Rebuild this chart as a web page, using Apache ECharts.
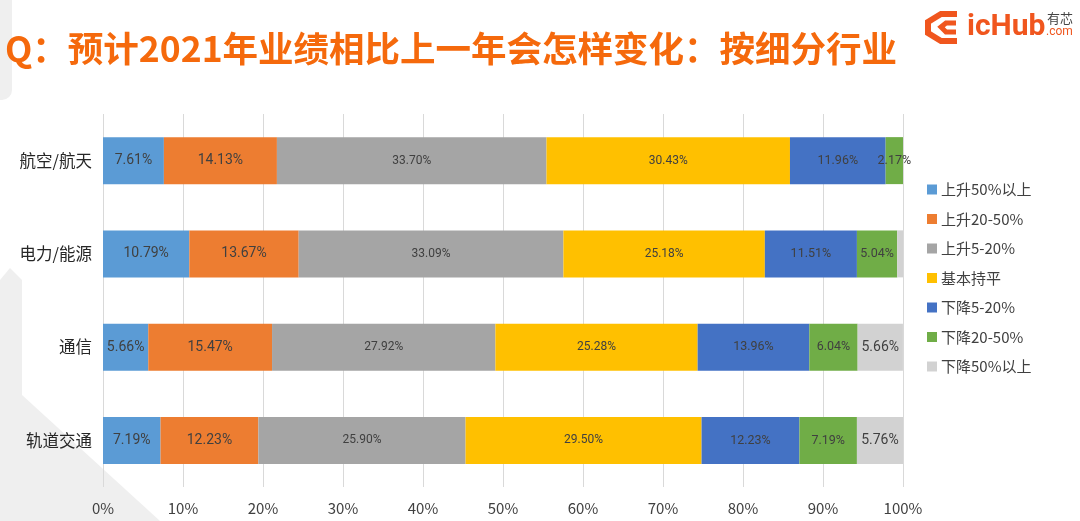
<!DOCTYPE html>
<html>
<head>
<meta charset="utf-8">
<script src="https://cdn.jsdelivr.net/npm/echarts@6/dist/echarts.min.js"></script>
<style>
  html, body { margin: 0; padding: 0; background: #ffffff; }
  #chart { width: 1080px; height: 521px; }
</style>
</head>
<body>
<div id="chart"></div>
<script>
// industries, top to bottom
var industries = ['航空/航天', '电力/能源', '通信', '轨道交通'];
var seriesNames = ['上升50%以上', '上升20-50%', '上升5-20%', '基本持平', '下降5-20%', '下降20-50%', '下降50%以上'];
var colors = ['#5B9BD5', '#ED7D31', '#A5A5A5', '#FFC000', '#4472C4', '#70AD47', '#D2D2D2'];

// percentage of each answer, per industry (same order as industries)
var up50 = [7.61, 10.79, 5.66, 7.19];
var up20 = [14.13, 13.67, 15.47, 12.23];
var up5 = [33.70, 33.09, 27.92, 25.90];
var flat = [30.43, 25.18, 25.28, 29.50];
var down5 = [11.96, 11.51, 13.96, 12.23];
var down20 = [2.17, 5.04, 6.04, 7.19];
var down50 = [0, 0.72, 5.66, 5.76];

var xTicks = [0, 10, 20, 30, 40, 50, 60, 70, 80, 90, 100];

var values = [up50, up20, up5, flat, down5, down20, down50];
var labelSizes = [14, 14, 12, 12, 12.5, 12.5, 14];

var chart = echarts.init(document.getElementById('chart'));

var series = [];
for (var i = 0; i < seriesNames.length; i++) {
    series.push({
        name: seriesNames[i],
        type: 'bar',
        stack: 'total',
        barWidth: 47,
        data: values[i],
        itemStyle: { color: colors[i] },
        label: {
            show: true,
            position: 'inside',
            color: '#404040',
            fontFamily: 'Liberation Sans Narrow, Roboto, sans-serif',
            fontSize: labelSizes[i],
            formatter: function (p) {
                return p.value < 1 ? '' : p.value.toFixed(2) + '%';
            }
        }
    });
}

var option = {
    backgroundColor: '#ffffff',
    animation: false,
    color: colors,
    title: {
        text: 'Q：预计2021年业绩相比上一年会怎样变化：按细分行业',
        left: 0,
        top: 26,
        textStyle: {
            color: '#F5690C',
            fontSize: 35.5,
            fontWeight: 'bold',
            fontFamily: 'Noto Sans CJK SC'
        }
    },
    graphic: [
        // light grey slide decoration on the left
        { type: 'rect', z: -10, shape: { x: -20, y: -20, width: 32, height: 120, r: 10 }, style: { fill: '#EFEFEF' } },
        { type: 'polygon', z: -10, shape: { points: [[0, 280], [10, 268], [22, 280], [22, 395], [160, 521], [0, 521]] }, style: { fill: '#EFEFEF' } },
        // logo
        { type: 'polyline', shape: { points: [[957, 14], [941, 14], [928, 22], [928, 33], [941, 41], [957, 41]] }, style: { stroke: '#F0561E', lineWidth: 6, fill: null } },
        { type: 'polyline', shape: { points: [[956, 23], [946, 23], [941, 27], [946, 32], [956, 32]] }, style: { stroke: '#F0561E', lineWidth: 5, fill: null } },
        { type: 'text', left: 967, top: 12, style: { text: 'icHub', fill: '#F0561E', font: 'bold 30px Roboto, sans-serif' } },
        { type: 'text', left: 1047, top: 12, style: { text: '有芯', fill: '#444444', font: '13px "Noto Sans CJK SC"' } },
        { type: 'text', left: 1046, top: 26, style: { text: '.com', fill: '#F0561E', font: '12px Roboto, sans-serif' } }
    ],
    legend: {
        orient: 'vertical',
        left: 922,
        top: 177,
        itemWidth: 10,
        itemHeight: 10,
        itemGap: 14.5,
        icon: 'rect',
        data: seriesNames,
        textStyle: { color: '#404040', fontSize: 15, fontFamily: 'Noto Sans CJK SC', padding: [0, 0, 0, -1] }
    },
    grid: {
        left: 103,
        right: 177,
        top: 114,
        bottom: 34,
        containLabel: false
    },
    xAxis: {
        type: 'value',
        min: 0,
        max: 100,
        interval: 10,
        axisLine: { show: false },
        axisTick: { show: false },
        splitLine: { show: true, lineStyle: { color: '#D9D9D9', width: 1 } },
        axisLabel: {
            margin: 14,
            color: '#404040',
            fontSize: 15,
            fontFamily: 'Noto Sans CJK SC',
            formatter: function (v) { return xTicks.indexOf(v) >= 0 ? v + '%' : ''; }
        }
    },
    yAxis: {
        type: 'category',
        inverse: true,
        data: industries,
        axisLine: { show: false },
        axisTick: { show: false },
        axisLabel: {
            margin: 11,
            color: '#262626',
            fontSize: 16.5,
            fontFamily: 'Noto Sans CJK SC'
        }
    },
    series: series
};

chart.setOption(option);
</script>
</body>
</html>
